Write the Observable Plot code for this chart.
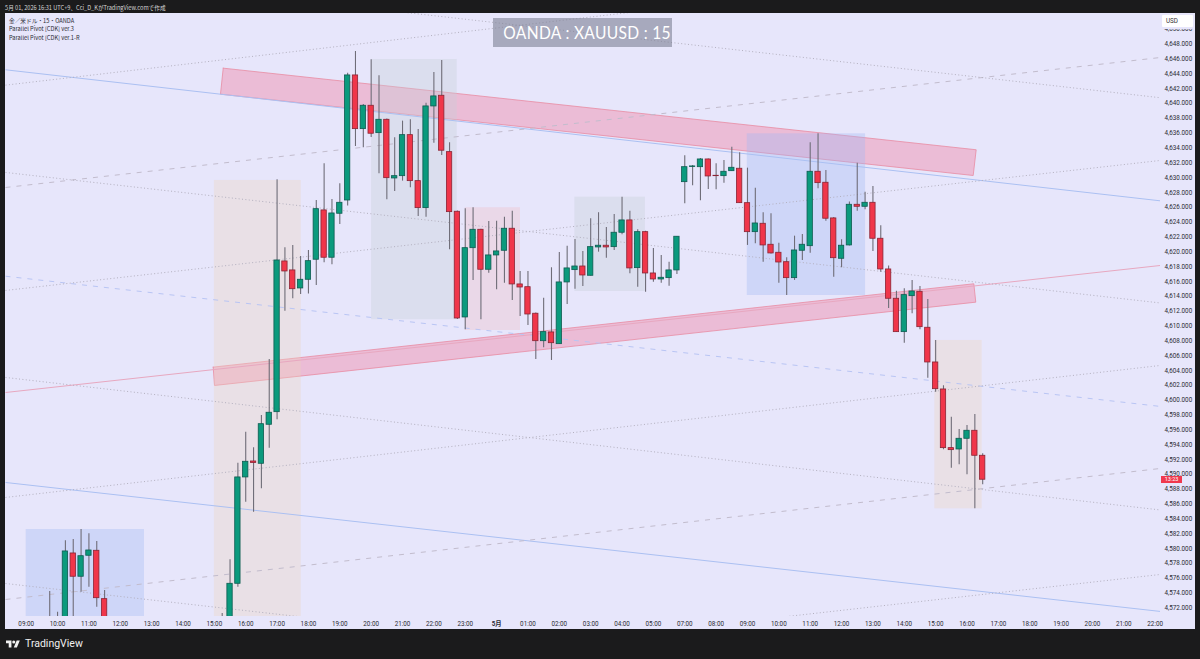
<!DOCTYPE html>
<html lang="ja">
<head>
<meta charset="utf-8">
<title>OANDA : XAUUSD : 15</title>
<script src="https://cdn.jsdelivr.net/npm/d3@7"></script>
<script src="https://cdn.jsdelivr.net/npm/@observablehq/plot@0.6"></script>
<style>
  html, body { margin: 0; padding: 0; background: #1b1b1c; width: 1200px; height: 659px; overflow: hidden; }
  #page { position: relative; width: 1200px; height: 659px; font-family: Roboto, "Noto Sans CJK JP", sans-serif; }
  #header { position: absolute; left: 5px; top: 2.5px; font: 5.65px "Noto Sans CJK JP", sans-serif; color: #d5d5d5; white-space: nowrap; }
  #chart { position: absolute; left: 5px; top: 13px; width: 1190px; height: 616px; }
  #legend { position: absolute; left: 9px; top: 17px; font: 5.7px/8.3px "Noto Sans CJK JP", Roboto, sans-serif; color: #2b2b33; white-space: nowrap; }
  #title { position: absolute; left: 493px; top: 18px; width: 179px; height: 29px; line-height: 29px; text-align: center;
           background: rgba(128,130,150,.62); color: #fff; font-family: Lato, sans-serif; font-size: 17.5px; letter-spacing: .35px; white-space: nowrap; }
  #title span { display: inline-block; transform: scaleX(.89); }
  #usd { position: absolute; left: 1162px; top: 15px; width: 31px; height: 12px; line-height: 12px; background: #fff; border-radius: 1px;
         box-shadow: 0 2px 0 #e7e6fb; color: #333; font-size: 6.3px; padding-left: 4px; box-sizing: border-box; }
  #timer { position: absolute; left: 1161px; top: 476px; width: 21px; height: 7px; line-height: 7px; background: #f0394e; color: #fff; font-size: 5.5px; text-align: center; }
  #footer { position: absolute; left: 6px; top: 637px; display: flex; align-items: center; gap: 5px; color: #f0f0f0; font: 10.5px Roboto, sans-serif; }
</style>
</head>
<body>
<div id="page">
  <div id="header">5月 01, 2026 16:31 UTC+9、Cci_D_KがTradingView.comで作成</div>
  <div id="chart"></div>
  <div id="legend">金／米ドル・15・OANDA<br>Parallel Pivot [CDK] ver.3<br>Parallel Pivot [CDK] ver.1-R</div>
  <div id="title"><span>OANDA : XAUUSD : 15</span></div>
  <div id="usd">USD</div>
  <div id="timer">13:23</div>
  <div id="footer">
    <svg width="14" height="10" viewBox="0 4 36 18"><path fill="#f0f0f0" d="M14 22H7V11H0V4h14v18zM28 22h-8l7.5-18h8L28 22z"/><circle fill="#f0f0f0" cx="20" cy="8" r="4"/></svg>
    <span>TradingView</span>
  </div>
</div>
<script>
// Bar number counted from the 09:00 bar; 4 bars per hour
const barIndex = [3,4,5,6,7,8,9,10,
  25,26,27,28,29,30,31,32,33,34,35,36,37,38,39,40,41,42,43,44,45,46,47,48,49,50,51,52,53,54,55,56,57,58,59,60,61,62,63,64,65,66,67,68,69,70,71,72,73,74,
  75,76,77,78,79,80,81,82,83,84,85,86,87,88,89,90,91,92,93,94,95,96,97,98,99,100,101,102,103,104,105,106,107,108,109,110,111,112,113,114,115,116,117,118,119,120,121,122];
const opens = [4569,4569,4568,4579.33,4576.19,4579.02,4579.69,4573.17,
  4569,4568,4575.24,4589.58,4591.73,4591.42,4596.68,4598.38,4618.70,4617.49,4615.06,4616.23,4618.93,4625.58,4619.20,4625.13,4626.92,4643.78,4636.54,4639.69,4636.00,4637.80,4629.89,4630.20,4635.73,4629.53,4625.89,4639.60,4641.04,4633.44,4625.40,4611.15,4620.49,4622.97,4617.58,4619.51,4620.14,4623.11,4615.60,4615.23,4611.65,4607.95,4609.13,4607.55,4615.87,4617.53,4618.02,4616.77,4620.59,4620.82,
  4620.63,4622.57,4624.23,4617.80,4622.65,4617.08,4616.27,4616.45,4617.49,4629.39,4631.43,4631.41,4632.45,4630.25,4630.20,4630.87,4631.20,4626.56,4622.65,4623.78,4620.95,4619.87,4618.60,4616.45,4620.14,4620.76,4630.79,4629.31,4624.50,4619.06,4620.86,4626.34,4626.07,4626.61,4621.76,4617.62,4613.67,4609.17,4614.02,4614.61,4609.76,4605.08,4601.44,4593.53,4593.35,4594.79,4595.87,4592.50];
const highs = [4574.21,4571.41,4581.04,4581.22,4582.56,4581.98,4580.95,4574.34,
  4571.24,4578.48,4591.50,4595.68,4593.58,4597.94,4605.49,4629.72,4620.55,4620.86,4619.37,4620.18,4626.92,4631.87,4627.06,4629.18,4644.09,4647.01,4639.87,4645.89,4643.74,4637.91,4635.38,4637.62,4637.80,4636.50,4640.04,4644.18,4645.80,4634.70,4625.50,4625.80,4625.94,4623.05,4624.09,4624.13,4624.67,4625.48,4617.35,4617.35,4611.76,4613.75,4617.85,4619.91,4620.76,4621.67,4620.05,4624.46,4625.27,4623.28,
  4625.04,4627.37,4625.48,4622.97,4622.78,4620.45,4619.51,4618.60,4622.07,4632.95,4631.64,4632.59,4632.52,4631.87,4632.32,4634.11,4633.36,4631.28,4628.58,4625.27,4625.13,4621.17,4619.20,4622.11,4622.34,4634.70,4635.92,4630.97,4624.63,4621.62,4626.70,4631.95,4628.04,4628.81,4623.51,4618.07,4614.69,4615.02,4616.14,4615.33,4613.58,4608.05,4601.94,4597.71,4596.05,4596.59,4598.07,4592.77];
const lows = [4566,4566,4566,4568,4574.11,4574.78,4572.09,4566,
  4566,4566,4574.78,4586.25,4584.90,4588.05,4593.53,4597.36,4612.00,4613.67,4614.25,4614.32,4615.46,4618.52,4618.25,4623.69,4626.16,4634.20,4634.03,4635.42,4630.52,4627.02,4628.14,4629.53,4628.64,4624.77,4624.67,4634.65,4632.99,4620.28,4610.88,4609.49,4616.14,4610.84,4617.12,4614.88,4615.77,4613.44,4611.28,4610.07,4605.49,4607.06,4605.35,4607.51,4612.90,4614.96,4615.33,4616.74,4619.95,4619.14,
  4620.18,4622.30,4617.04,4615.23,4614.56,4615.91,4615.77,4615.37,4616.95,4626.48,4628.91,4626.88,4628.41,4628.37,4629.26,4630.83,4626.52,4620.86,4621.09,4618.60,4619.71,4615.77,4614.12,4616.14,4618.83,4619.82,4628.50,4624.13,4616.58,4617.85,4620.79,4625.48,4625.67,4620.05,4617.26,4612.36,4609.13,4607.68,4611.65,4609.49,4602.96,4601.08,4593.31,4590.83,4591.29,4589.94,4585.36,4588.59];
const closes = [4568.5,4568,4579.60,4576.19,4578.96,4579.73,4573.30,4568,
  4568,4575.24,4589.58,4591.69,4591.53,4596.76,4598.30,4618.83,4617.35,4614.96,4616.23,4618.74,4625.75,4619.20,4625.17,4626.61,4643.78,4636.54,4639.69,4635.92,4637.80,4629.93,4630.20,4635.73,4629.53,4625.89,4639.60,4640.95,4633.63,4625.35,4611.01,4620.49,4622.97,4617.58,4619.51,4620.05,4623.11,4615.60,4615.19,4611.55,4607.95,4609.17,4607.68,4615.87,4617.76,4618.02,4616.81,4620.63,4620.82,4620.59,
  4622.57,4624.23,4617.76,4622.65,4617.08,4616.27,4616.50,4617.49,4622.03,4631.41,4631.51,4632.45,4630.16,4630.20,4630.79,4631.33,4626.56,4622.65,4623.82,4620.86,4619.78,4618.56,4616.45,4620.18,4620.95,4630.79,4629.26,4624.46,4619.14,4620.82,4626.34,4626.07,4626.61,4621.76,4617.62,4613.67,4609.17,4614.16,4614.65,4609.84,4605.08,4601.48,4593.53,4593.26,4594.79,4595.87,4592.50,4589.27];

const xTickLabels = ["09:00","10:00","11:00","12:00","13:00","14:00","15:00","16:00","17:00","18:00","19:00","20:00","21:00","22:00","23:00","5月",
  "01:00","02:00","03:00","04:00","05:00","07:00","08:00","09:00","10:00","11:00","12:00","13:00","14:00","15:00","16:00","17:00","18:00","19:00","20:00","21:00","22:00"];
const priceTicks = [4572,4574,4576,4578,4580,4582,4584,4586,4588,4590,4592,4594,4596,4598,4600,4602,4604,4606,4608,4610,4612,4614,4616,4618,4620,4622,4624,4626,4628,4630,4632,4634,4636,4638,4640,4642,4644,4646,4648,4650];

// Channel lines: price at the left and right edge of the pane
const solidBlue   = [[4644.54,4626.87],[4588.90,4571.51]];
const dashedBlue  = [[4616.71,4599.15]];
const solidPink   = [[4601.03,4618.16]];
const dashedGray  = [[4628.67,4646.20],[4573.12,4590.79]];
const dottedGray  = [[4630.70,4613.10],[4603.06,4585.19],[4575.28,4557.70],[4658.36,4640.77],
                     [4642.47,4660.60],[4614.79,4632.32],[4586.88,4604.68],[4558.97,4576.50]];

// Support and resistance bands: [bar, price] corners
const resistanceBand = [[25.13,4644.76],[121.17,4633.76],[120.79,4630.29],[24.78,4641.25],[25.13,4644.76]];
const supportBand    = [[23.85,4604.45],[120.87,4615.69],[121.12,4613.21],[24.02,4601.98],[23.85,4604.45]];

// Time boxes: first bar, last bar, top price, bottom price
const blueBoxes = [[0,15.09,4582.56,4560],[91.97,107.06,4635.91,4614.11]];
const tanBoxes  = [[24,35.08,4629.62,4560],[115.9,121.94,4608.05,4585.35]];
const grayBoxes = [[44.05,54.98,4645.93,4610.84],[69.98,78.99,4627.37,4614.65]];
const pinkBoxes = [[56,63.05,4625.94,4609.39]];

const candles = barIndex.map((i, k) => ({i, o: opens[k], h: highs[k], l: lows[k], c: closes[k]}));
const GREEN = "#0b9a7d", GREEN_EDGE = "#0d5c50", RED = "#f0364a", RED_EDGE = "#8a2434";
const X_LEFT = -2.64, X_RIGHT = 144.68;

const lineMark = (rows, style) => Plot.link(rows, {
  x1: () => X_LEFT, x2: () => X_RIGHT, y1: d => d[0], y2: d => d[1], clip: true, ...style
});
const boxMark = (rows, fill) => Plot.rect(rows, {
  x1: d => d[0], x2: d => d[1], y1: d => d[3], y2: d => d[2], fill, fillOpacity: 0.35, clip: true
});
const bandMark = rows => Plot.line(rows, {
  x: d => d[0], y: d => d[1], fill: "#ef92b1", fillOpacity: 0.5, stroke: "#e98ba2", strokeWidth: 0.8, clip: true
});

const chart = Plot.plot({
  width: 1190, height: 616,
  marginTop: 0, marginLeft: 0, marginRight: 35, marginBottom: 13,
  style: {background: "#e7e6fb", fontFamily: "Roboto, 'Noto Sans CJK JP', sans-serif", color: "#2b2b33"},
  x: {type: "linear", domain: [X_LEFT, X_RIGHT]},
  y: {type: "linear", domain: [4570.83, 4652.13]},
  marks: [
    bandMark(resistanceBand),
    bandMark(supportBand),
    boxMark(blueBoxes, "#a0b8f3"),
    boxMark(tanBoxes, "#edd5bf"),
    boxMark(grayBoxes, "#c6cdd6"),
    boxMark(pinkBoxes, "#f0bec5"),
    lineMark(solidBlue, {stroke: "#abc0f2", strokeWidth: 1}),
    lineMark(dashedBlue, {stroke: "#b9c5f4", strokeWidth: 1, strokeDasharray: "5 6"}),
    lineMark(solidPink, {stroke: "#e8a8c0", strokeWidth: 1}),
    lineMark(dashedGray, {stroke: "#c2bccd", strokeWidth: 1, strokeDasharray: "5 6"}),
    lineMark(dottedGray, {stroke: "#b3b0bf", strokeWidth: 1, strokeDasharray: "1 2.4"}),
    Plot.ruleX(candles, {x: "i", y1: "l", y2: "h", stroke: "#6f6d78", strokeWidth: 1.1, clip: true}),
    Plot.rect(candles, {
      x1: d => d.i - 0.34, x2: d => d.i + 0.34,
      y1: "o", y2: "c",
      fill: d => d.c >= d.o ? GREEN : RED,
      stroke: d => d.c >= d.o ? GREEN_EDGE : RED_EDGE,
      strokeWidth: 0.8, clip: true
    }),
    Plot.axisY({anchor: "right", ticks: priceTicks, tickSize: 0, tickPadding: 4, fontSize: 6.3,
                tickFormat: d3.format(",.3f"), label: null}),
    Plot.axisX({ticks: xTickLabels.map((_, k) => k * 4), tickSize: 0, tickPadding: 5, fontSize: 6.3,
                tickFormat: d => xTickLabels[d / 4], label: null})
  ]
});
d3.select(chart).selectAll("text").filter(function () { return this.textContent === "5月"; }).attr("font-weight", "bold");
document.getElementById("chart").appendChild(chart);
</script>
</body>
</html>
